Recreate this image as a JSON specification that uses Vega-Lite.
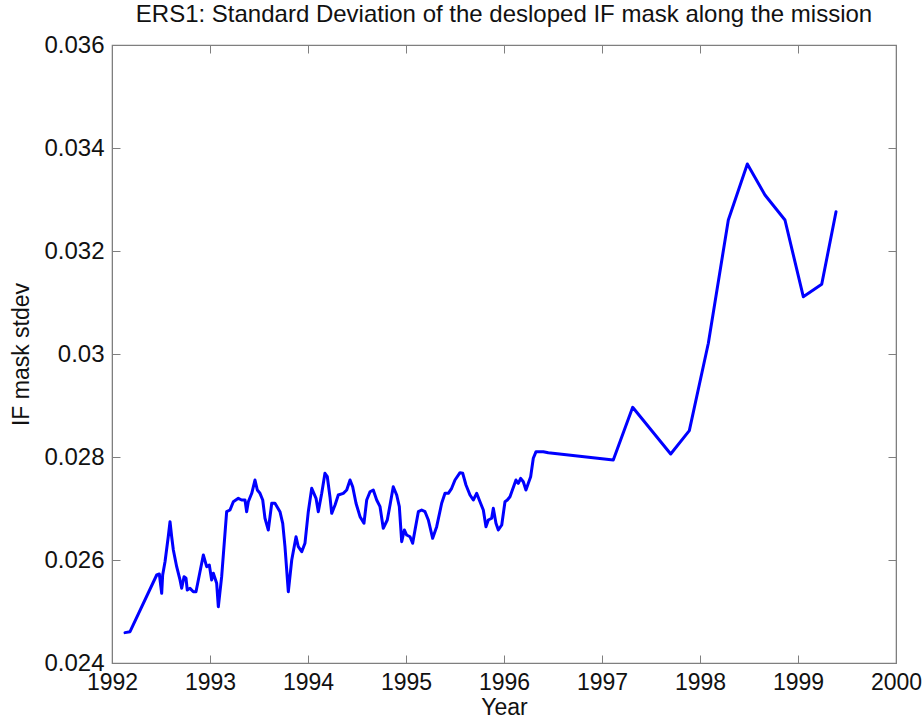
{
  "$schema": "https://vega.github.io/schema/vega-lite/v6.json",
  "width": 784,
  "height": 618,
  "autosize": "none",
  "padding": {"left": 112, "top": 45, "right": 27, "bottom": 58},
  "background": "white",
  "title": {
    "text": "ERS1: Standard Deviation of the desloped IF mask along the mission",
    "font": "Liberation Sans",
    "fontSize": 24,
    "fontWeight": "normal",
    "color": "#111111",
    "offset": 6
  },
  "config": {
    "view": {"stroke": "#7f7f7f", "strokeWidth": 1.2},
    "axis": {
      "labelFont": "Liberation Sans",
      "labelFontSize": 23,
      "labelColor": "#111111",
      "titleFont": "Liberation Sans",
      "titleFontSize": 23,
      "titleFontWeight": "normal",
      "titleColor": "#111111",
      "domainColor": "#7f7f7f",
      "tickColor": "#7f7f7f",
      "tickSize": -8,
      "grid": false
    }
  },
  "data": {
    "values": [
      {"t": 1992.133, "v": 0.02459},
      {"t": 1992.184, "v": 0.024608},
      {"t": 1992.456, "v": 0.025709},
      {"t": 1992.483, "v": 0.025728},
      {"t": 1992.507, "v": 0.025353},
      {"t": 1992.517, "v": 0.025709},
      {"t": 1992.541, "v": 0.025967},
      {"t": 1992.574, "v": 0.026452},
      {"t": 1992.592, "v": 0.026744},
      {"t": 1992.609, "v": 0.026452},
      {"t": 1992.626, "v": 0.026194},
      {"t": 1992.66, "v": 0.02587},
      {"t": 1992.694, "v": 0.025612},
      {"t": 1992.711, "v": 0.02545},
      {"t": 1992.735, "v": 0.025676},
      {"t": 1992.755, "v": 0.025645},
      {"t": 1992.768, "v": 0.025417},
      {"t": 1992.796, "v": 0.02545},
      {"t": 1992.83, "v": 0.025384},
      {"t": 1992.857, "v": 0.025384},
      {"t": 1992.881, "v": 0.025612},
      {"t": 1992.932, "v": 0.026097},
      {"t": 1992.966, "v": 0.02587},
      {"t": 1992.993, "v": 0.025903},
      {"t": 1993.017, "v": 0.025612},
      {"t": 1993.034, "v": 0.025742},
      {"t": 1993.068, "v": 0.025548},
      {"t": 1993.085, "v": 0.025093},
      {"t": 1993.119, "v": 0.025676},
      {"t": 1993.17, "v": 0.026938},
      {"t": 1993.204, "v": 0.026971},
      {"t": 1993.238, "v": 0.027132},
      {"t": 1993.289, "v": 0.027198},
      {"t": 1993.323, "v": 0.027165},
      {"t": 1993.357, "v": 0.027165},
      {"t": 1993.374, "v": 0.026938},
      {"t": 1993.391, "v": 0.027132},
      {"t": 1993.426, "v": 0.027295},
      {"t": 1993.459, "v": 0.027553},
      {"t": 1993.483, "v": 0.027359},
      {"t": 1993.51, "v": 0.027295},
      {"t": 1993.538, "v": 0.027165},
      {"t": 1993.561, "v": 0.02681},
      {"t": 1993.595, "v": 0.026583},
      {"t": 1993.63, "v": 0.027101},
      {"t": 1993.663, "v": 0.027101},
      {"t": 1993.714, "v": 0.026938},
      {"t": 1993.742, "v": 0.026713},
      {"t": 1993.765, "v": 0.026258},
      {"t": 1993.799, "v": 0.025384},
      {"t": 1993.834, "v": 0.026},
      {"t": 1993.878, "v": 0.026452},
      {"t": 1993.901, "v": 0.026258},
      {"t": 1993.936, "v": 0.026161},
      {"t": 1993.969, "v": 0.026324},
      {"t": 1994.003, "v": 0.026938},
      {"t": 1994.038, "v": 0.027392},
      {"t": 1994.082, "v": 0.027198},
      {"t": 1994.105, "v": 0.026938},
      {"t": 1994.14, "v": 0.027295},
      {"t": 1994.173, "v": 0.027683},
      {"t": 1994.197, "v": 0.027617},
      {"t": 1994.224, "v": 0.027229},
      {"t": 1994.242, "v": 0.026906},
      {"t": 1994.276, "v": 0.027068},
      {"t": 1994.309, "v": 0.027262},
      {"t": 1994.36, "v": 0.027295},
      {"t": 1994.395, "v": 0.027359},
      {"t": 1994.429, "v": 0.027553},
      {"t": 1994.456, "v": 0.027423},
      {"t": 1994.49, "v": 0.027101},
      {"t": 1994.531, "v": 0.026841},
      {"t": 1994.571, "v": 0.026713},
      {"t": 1994.599, "v": 0.027165},
      {"t": 1994.633, "v": 0.027326},
      {"t": 1994.666, "v": 0.027359},
      {"t": 1994.701, "v": 0.027165},
      {"t": 1994.735, "v": 0.027035},
      {"t": 1994.768, "v": 0.026616},
      {"t": 1994.809, "v": 0.026777},
      {"t": 1994.837, "v": 0.027068},
      {"t": 1994.87, "v": 0.027423},
      {"t": 1994.905, "v": 0.027262},
      {"t": 1994.932, "v": 0.027035},
      {"t": 1994.956, "v": 0.026355},
      {"t": 1994.983, "v": 0.026583},
      {"t": 1995.007, "v": 0.026485},
      {"t": 1995.041, "v": 0.026452},
      {"t": 1995.068, "v": 0.026324},
      {"t": 1995.092, "v": 0.026583},
      {"t": 1995.126, "v": 0.026938},
      {"t": 1995.16, "v": 0.026971},
      {"t": 1995.194, "v": 0.026938},
      {"t": 1995.228, "v": 0.026777},
      {"t": 1995.272, "v": 0.026421},
      {"t": 1995.313, "v": 0.026647},
      {"t": 1995.364, "v": 0.027101},
      {"t": 1995.398, "v": 0.027295},
      {"t": 1995.432, "v": 0.027295},
      {"t": 1995.466, "v": 0.027392},
      {"t": 1995.5, "v": 0.027553},
      {"t": 1995.551, "v": 0.027695},
      {"t": 1995.579, "v": 0.027684},
      {"t": 1995.612, "v": 0.027456},
      {"t": 1995.653, "v": 0.027262},
      {"t": 1995.687, "v": 0.027165},
      {"t": 1995.721, "v": 0.027295},
      {"t": 1995.755, "v": 0.027132},
      {"t": 1995.789, "v": 0.026971},
      {"t": 1995.816, "v": 0.026647},
      {"t": 1995.84, "v": 0.026777},
      {"t": 1995.874, "v": 0.02681},
      {"t": 1995.891, "v": 0.027004},
      {"t": 1995.918, "v": 0.026713},
      {"t": 1995.942, "v": 0.026583},
      {"t": 1995.977, "v": 0.02668},
      {"t": 1996.01, "v": 0.027132},
      {"t": 1996.034, "v": 0.027165},
      {"t": 1996.061, "v": 0.027229},
      {"t": 1996.122, "v": 0.027553},
      {"t": 1996.146, "v": 0.027489},
      {"t": 1996.17, "v": 0.027586},
      {"t": 1996.197, "v": 0.02752},
      {"t": 1996.224, "v": 0.027359},
      {"t": 1996.248, "v": 0.027489},
      {"t": 1996.272, "v": 0.027617},
      {"t": 1996.299, "v": 0.027975},
      {"t": 1996.327, "v": 0.028103},
      {"t": 1996.401, "v": 0.028103},
      {"t": 1996.452, "v": 0.028083},
      {"t": 1997.115, "v": 0.027942},
      {"t": 1997.313, "v": 0.028965},
      {"t": 1997.701, "v": 0.028058},
      {"t": 1997.891, "v": 0.028511},
      {"t": 1998.085, "v": 0.030208},
      {"t": 1998.289, "v": 0.032602},
      {"t": 1998.483, "v": 0.033689},
      {"t": 1998.663, "v": 0.033087},
      {"t": 1998.867, "v": 0.032602},
      {"t": 1999.054, "v": 0.031113},
      {"t": 1999.242, "v": 0.031353},
      {"t": 1999.388, "v": 0.032763}
    ]
  },
  "resolve": {"axis": {"x": "independent", "y": "independent"}},
  "layer": [
    {
      "mark": {"type": "line", "color": "#0000ff", "strokeWidth": 3, "strokeJoin": "round", "strokeCap": "round"},
      "encoding": {
        "x": {
          "field": "t", "type": "quantitative",
          "scale": {"domain": [1992, 2000], "nice": false, "zero": false},
          "axis": {"orient": "bottom", "title": "Year", "values": [1992, 1993, 1994, 1995, 1996, 1997, 1998, 1999, 2000], "format": "d", "labelPadding": 16, "titlePadding": 2, "labelFlush": false}
        },
        "y": {
          "field": "v", "type": "quantitative",
          "scale": {"domain": [0.024, 0.036], "nice": false, "zero": false},
          "axis": {"orient": "left", "title": "IF mask stdev", "values": [0.024, 0.026, 0.028, 0.03, 0.032, 0.034, 0.036], "format": ".3~f", "labelPadding": 16, "labelFontSize": 24, "titlePadding": 10, "labelFlush": false, "labelOverlap": false}
        }
      }
    },
    {
      "mark": {"type": "line", "strokeOpacity": 0},
      "encoding": {
        "x": {
          "field": "t", "type": "quantitative",
          "scale": {"domain": [1992, 2000], "nice": false, "zero": false},
          "axis": {"orient": "top", "title": null, "labels": false, "values": [1992, 1993, 1994, 1995, 1996, 1997, 1998, 1999, 2000]}
        },
        "y": {
          "field": "v", "type": "quantitative",
          "scale": {"domain": [0.024, 0.036], "nice": false, "zero": false},
          "axis": {"orient": "right", "title": null, "labels": false, "values": [0.024, 0.026, 0.028, 0.03, 0.032, 0.034, 0.036]}
        }
      }
    }
  ]
}
